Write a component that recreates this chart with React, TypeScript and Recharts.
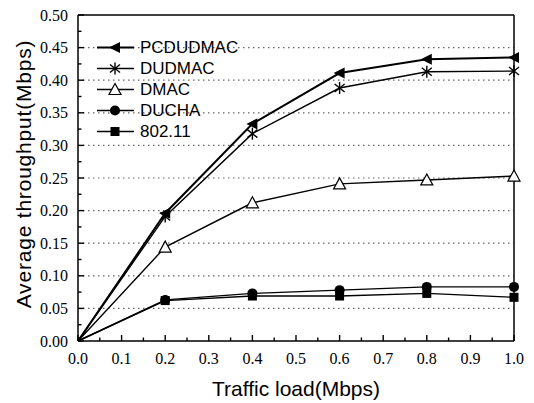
import { LineChart, Line, XAxis, YAxis, ReferenceLine, Label } from "recharts"

// traffic load (Mbps)
const loads = [0, 0.2, 0.4, 0.6, 0.8, 1.0]

// average throughput (Mbps)
const pcdudmac = [0, 0.196, 0.333, 0.411, 0.432, 0.435]
const dudmac = [0, 0.191, 0.318, 0.388, 0.413, 0.414]
const dmac = [0, 0.144, 0.212, 0.241, 0.247, 0.253]
const ducha = [0, 0.063, 0.073, 0.078, 0.083, 0.083]
const ieee80211 = [0, 0.062, 0.069, 0.069, 0.073, 0.067]

const seriesNames = ["PCDUDMAC", "DUDMAC", "DMAC", "DUCHA", "802.11"]
const seriesKeys = ["pcdudmac", "dudmac", "dmac", "ducha", "ieee80211"]

const xTicks = [0, 0.05, 0.1, 0.15, 0.2, 0.25, 0.3, 0.35, 0.4, 0.45, 0.5, 0.55, 0.6, 0.65, 0.7, 0.75, 0.8, 0.85, 0.9, 0.95, 1.0]
const yTicks = [0, 0.025, 0.05, 0.075, 0.1, 0.125, 0.15, 0.175, 0.2, 0.225, 0.25, 0.275, 0.3, 0.325, 0.35, 0.375, 0.4, 0.425, 0.45, 0.475, 0.5]
const gridValues = [0.05, 0.1, 0.15, 0.2, 0.25, 0.3, 0.35, 0.4, 0.45]

const data = loads.map((load, i) => ({
  load,
  pcdudmac: pcdudmac[i],
  dudmac: dudmac[i],
  dmac: dmac[i],
  ducha: ducha[i],
  ieee80211: ieee80211[i],
}))

const serif = "'Liberation Serif', 'DejaVu Serif', serif"
const sans = "'Liberation Sans', Arial, sans-serif"

const isMajorX = (v: number) => Math.round(v * 100) % 10 === 0
const isMajorY = (v: number) => Math.round(v * 1000) % 50 === 0

// markers
function Marker({ kind, cx, cy }: { kind: number; cx: number; cy: number }) {
  if (kind === 0)
    return <polygon points={`${cx - 6},${cy} ${cx + 5},${cy - 5.5} ${cx + 5},${cy + 5.5}`} fill="#000" />
  if (kind === 1)
    return (
      <g stroke="#000" strokeWidth={1.4}>
        <line x1={cx} y1={cy - 6} x2={cx} y2={cy + 6} />
        <line x1={cx - 5} y1={cy - 4} x2={cx + 5} y2={cy + 4} />
        <line x1={cx - 5} y1={cy + 4} x2={cx + 5} y2={cy - 4} />
      </g>
    )
  if (kind === 2)
    return <polygon points={`${cx},${cy - 6} ${cx - 6},${cy + 5} ${cx + 6},${cy + 5}`} fill="#fff" stroke="#000" strokeWidth={1.2} />
  if (kind === 3) return <circle cx={cx} cy={cy} r={5} fill="#000" />
  return <rect x={cx - 4.5} y={cy - 4.5} width={9} height={9} fill="#000" />
}

const makeDot = (kind: number) => (p: any) => {
  if (p.index === 0 || p.cx == null) return <g key={`d-${kind}-${p.index}`} />
  return <Marker key={`d-${kind}-${p.index}`} kind={kind} cx={p.cx} cy={p.cy} />
}

const bottomTick = (p: any) => {
  const { x, y, payload } = p
  const major = isMajorX(payload.value)
  return (
    <g key={`bt-${payload.value}`}>
      <line x1={x} x2={x} y1={y} y2={y - (major ? 6 : 3.5)} stroke="#000" strokeWidth={1.4} />
      {major && (
        <text x={x} y={y + 23} textAnchor="middle" fontFamily={serif} fontSize={16} fill="#000">
          {payload.value.toFixed(1)}
        </text>
      )}
    </g>
  )
}

const leftTick = (p: any) => {
  const { x, y, payload } = p
  const major = isMajorY(payload.value)
  return (
    <g key={`lt-${payload.value}`}>
      <line x1={x} x2={x + (major ? 6 : 3.5)} y1={y} y2={y} stroke="#000" strokeWidth={1.4} />
      {major && (
        <text x={x - 10} y={y + 5.5} textAnchor="end" fontFamily={serif} fontSize={16} fill="#000">
          {payload.value.toFixed(2)}
        </text>
      )}
    </g>
  )
}

function XTitle({ viewBox }: any) {
  const cx = viewBox.x + viewBox.width / 2
  return (
    <text x={cx} y={viewBox.y + 55} textAnchor="middle" fontFamily={sans} fontSize={21} fill="#000">
      Traffic load(Mbps)
    </text>
  )
}

function YTitle({ viewBox }: any) {
  const cx = 31
  const cy = viewBox.y + viewBox.height / 2 - 4
  return (
    <text
      x={cx}
      y={cy}
      transform={`rotate(-90 ${cx} ${cy})`}
      textAnchor="middle"
      fontFamily={sans}
      fontSize={21}
      letterSpacing={0.8}
      fill="#000"
    >
      Average throughput(Mbps)
    </text>
  )
}

function LegendBox() {
  return (
    <div style={{ position: "absolute", left: 95, top: 37, display: "flex", flexDirection: "column" }}>
      {seriesNames.map((name, i) => (
        <div key={name} style={{ display: "flex", alignItems: "center", height: 21 }}>
          <svg width={42} height={21}>
            <line x1={2} x2={39} y1={10.5} y2={10.5} stroke="#000" strokeWidth={i === 0 ? 2 : 1.4} />
            <Marker kind={i} cx={20} cy={10.5} />
          </svg>
          <span style={{ fontFamily: sans, fontSize: 17, color: "#000", marginLeft: 3, lineHeight: "21px" }}>
            {name}
          </span>
        </div>
      ))}
    </div>
  )
}

export default function App() {
  return (
    <div style={{ position: "absolute", left: 0, top: 0, width: 534, height: 403, background: "#fff" }}>
      <LineChart width={534} height={403} data={data} margin={{ top: 15, right: 20, left: 0, bottom: 0 }}>
        <XAxis
          xAxisId="bottom"
          dataKey="load"
          type="number"
          domain={[0, 1]}
          ticks={xTicks}
          interval={0}
          height={62}
          tickSize={0}
          tickMargin={0}
          tickLine={false}
          tick={bottomTick}
          axisLine={{ stroke: "#000", strokeWidth: 1.5 }}
        >
          <Label content={<XTitle />} />
        </XAxis>
        <XAxis
          xAxisId="top"
          orientation="top"
          dataKey="load"
          type="number"
          domain={[0, 1]}
          ticks={xTicks}
          interval={0}
          height={1}
          mirror
          tickSize={5}
          tick={false}
          tickLine={{ stroke: "#000", strokeWidth: 1.4 }}
          axisLine={{ stroke: "#000", strokeWidth: 1.5 }}
        />
        <YAxis
          yAxisId="left"
          type="number"
          domain={[0, 0.5]}
          ticks={yTicks}
          interval={0}
          width={78}
          tickSize={0}
          tickMargin={0}
          tickLine={false}
          tick={leftTick}
          axisLine={{ stroke: "#000", strokeWidth: 1.5 }}
        >
          <Label content={<YTitle />} />
        </YAxis>
        <YAxis
          yAxisId="right"
          orientation="right"
          type="number"
          domain={[0, 0.5]}
          ticks={yTicks}
          interval={0}
          width={1}
          mirror
          tickSize={5}
          tick={false}
          tickLine={{ stroke: "#000", strokeWidth: 1.4 }}
          axisLine={{ stroke: "#000", strokeWidth: 1.5 }}
        />
        {gridValues.map((v) => (
          <ReferenceLine
            key={v}
            y={v}
            xAxisId="bottom"
            yAxisId="left"
            stroke="#666"
            strokeDasharray="1.5 3.5"
            strokeWidth={1.2}
          />
        ))}
        {seriesKeys.map((key, i) => (
          <Line
            key={key}
            xAxisId={i % 2 ? "top" : "bottom"}
            yAxisId={i % 2 ? "right" : "left"}
            dataKey={key}
            name={seriesNames[i]}
            stroke="#000"
            strokeWidth={i === 0 ? 2 : 1.4}
            dot={makeDot(i)}
            activeDot={false}
            isAnimationActive={false}
          />
        ))}
      </LineChart>
      <LegendBox />
    </div>
  )
}
